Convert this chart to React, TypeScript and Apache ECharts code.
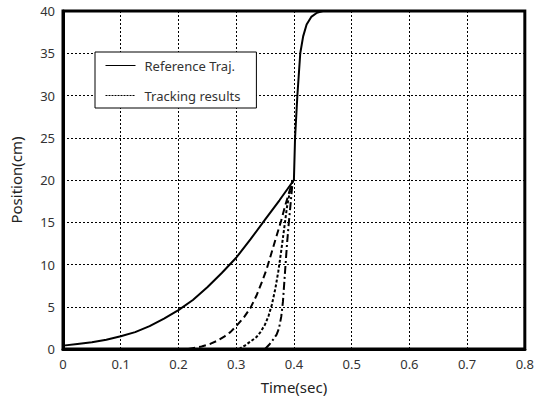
import React, { useEffect, useRef } from "react";
import * as echarts from "echarts";

const xTicks = { min: 0, max: 0.8, interval: 0.1 };
const yTicks = { min: 0, max: 40, interval: 5 };

const refT = [0, 0.025, 0.05, 0.075, 0.1, 0.125, 0.15, 0.175, 0.2, 0.225, 0.25, 0.275, 0.3, 0.325, 0.35, 0.375, 0.4, 0.402, 0.406, 0.411, 0.416, 0.422, 0.43, 0.44, 0.45, 0.8];
const refY = [0.4, 0.6, 0.8, 1.1, 1.5, 2.0, 2.7, 3.6, 4.6, 5.8, 7.3, 9.0, 10.8, 13.0, 15.3, 17.6, 20, 25, 30, 35, 37, 38.4, 39.3, 39.8, 40, 40];

const trk1T = [0.217, 0.24, 0.255, 0.268, 0.28, 0.29, 0.3, 0.313, 0.325, 0.335, 0.345, 0.353, 0.36, 0.37, 0.378, 0.385, 0.392, 0.398];
const trk1Y = [0, 0.3, 0.6, 1.0, 1.5, 2.0, 2.7, 3.7, 4.9, 6.3, 8, 9.5, 11.1, 13.4, 15.2, 17, 18.6, 20];

const trk2T = [0.305, 0.315, 0.325, 0.335, 0.342, 0.35, 0.356, 0.362, 0.368, 0.373, 0.378, 0.383, 0.388, 0.393, 0.398];
const trk2Y = [0, 0.4, 0.9, 1.4, 2.0, 2.9, 3.9, 5.3, 7.2, 9.2, 11.6, 14.2, 16.8, 18.6, 20];

const trk3T = [0.35, 0.357, 0.364, 0.37, 0.374, 0.378, 0.381, 0.385, 0.388, 0.391, 0.394, 0.398];
const trk3Y = [0, 0.5, 1.1, 1.7, 2.4, 3.8, 5.6, 9.5, 12.4, 14.8, 17, 20];

const legendNames = ["Reference Traj.", "Tracking results"];

const zip = (t: number[], y: number[]) => t.map((v, i) => [v, y[i]]);

const FONT = "Noto Sans";

export default function App() {
  const ref = useRef<HTMLDivElement>(null);
  useEffect(() => {
    if (!ref.current) return;
    const chart = echarts.init(ref.current, null, { renderer: "svg" });
    const lineBase = { type: "line", showSymbol: false, symbol: "none", smooth: false, z: 3 };
    chart.setOption({
      animation: false,
      backgroundColor: "#fff",
      textStyle: { fontFamily: FONT },
      grid: { left: 62, top: 11, right: 10, bottom: 47, show: true, borderColor: "#000", borderWidth: 3, backgroundColor: "transparent" },
      legend: {
        data: [
          { name: legendNames[0], lineStyle: { type: "solid", width: 1 } },
          { name: legendNames[1], lineStyle: { type: [2, 1], width: 1 } },
        ],
        orient: "vertical",
        left: 95,
        top: 52,
        backgroundColor: "#fff",
        borderColor: "#000",
        borderWidth: 1,
        borderRadius: 0,
        padding: [7, 16, 6, 10],
        itemWidth: 30,
        itemHeight: 8,
        itemGap: 17,
        itemStyle: { opacity: 0 },
        lineStyle: { width: 1 },
        textStyle: { fontFamily: FONT, fontSize: 13, color: "#333", padding: [0, 0, 0, 4] },
      },
      xAxis: {
        type: "value",
        ...xTicks,
        name: "Time(sec)",
        nameLocation: "middle",
        nameGap: 30,
        nameTextStyle: { fontFamily: FONT, fontSize: 15, color: "#222" },
        axisLine: { show: true, lineStyle: { color: "#000", width: 3 } },
        axisTick: { show: false },
        axisLabel: { fontFamily: FONT, fontSize: 13, color: "#333", margin: 8 },
        splitLine: { show: true, lineStyle: { color: "#000", type: [2, 2], width: 1 } },
      },
      yAxis: {
        type: "value",
        ...yTicks,
        name: "Position(cm)",
        nameLocation: "middle",
        nameGap: 40,
        nameTextStyle: { fontFamily: FONT, fontSize: 15, color: "#222" },
        axisLine: { show: true, lineStyle: { color: "#000", width: 3 } },
        axisTick: { show: false },
        axisLabel: { fontFamily: FONT, fontSize: 13, color: "#333", margin: 8 },
        splitLine: { show: true, lineStyle: { color: "#000", type: [2, 2], width: 1 } },
      },
      series: [
        { ...lineBase, name: legendNames[0], data: zip(refT, refY), lineStyle: { color: "#000", width: 2, type: "solid" }, itemStyle: { color: "#000" } },
        { ...lineBase, name: legendNames[1], data: zip(trk2T, trk2Y), lineStyle: { color: "#000", width: 2, type: [3, 2] }, itemStyle: { color: "#000" } },
        { ...lineBase, name: "Tracking 1", data: zip(trk1T, trk1Y), lineStyle: { color: "#000", width: 2, type: [7, 4] }, itemStyle: { color: "#000" } },
        { ...lineBase, name: "Tracking 3", data: zip(trk3T, trk3Y), lineStyle: { color: "#000", width: 2, type: [8, 3, 2, 3] }, itemStyle: { color: "#000" } },
      ],
    });
    return () => chart.dispose();
  }, []);
  return <div ref={ref} style={{ position: "absolute", left: 0, top: 0, width: 537, height: 399 }} />;
}
